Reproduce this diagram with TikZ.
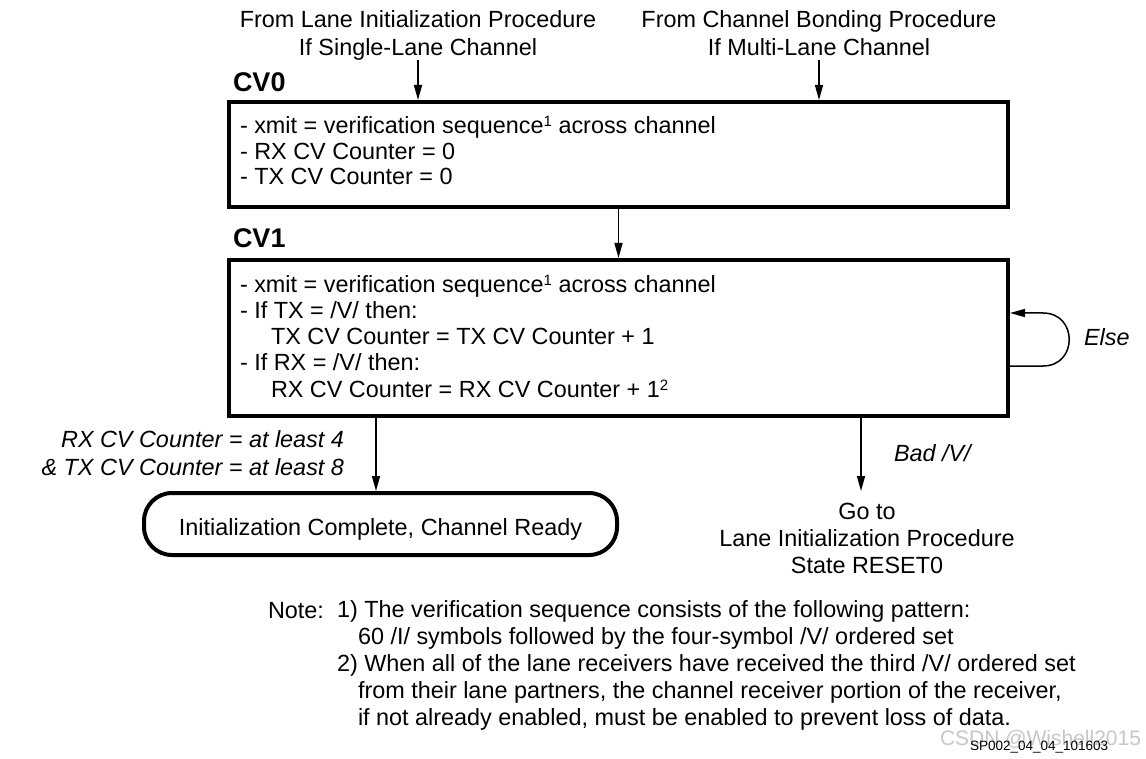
\documentclass[tikz,border=0pt]{standalone}
\usepackage{fontspec}
\setmainfont{Liberation Sans}
\usetikzlibrary{arrows.meta}
\newcommand{\supone}[1]{\raisebox{7pt}{\fontsize{15}{15}\selectfont #1}}
\begin{document}
\begin{tikzpicture}[x=1pt,y=-1pt,
  every node/.style={inner sep=0pt, outer sep=0pt},
  txt/.style={font=\fontsize{23.4}{26}\selectfont, align=left, anchor=base west},
  ctxt/.style={font=\fontsize{23.4}{28}\selectfont, align=center, anchor=base},
  itxt/.style={font=\fontsize{23.4}{28}\selectfont\itshape},
  state/.style={draw, line width=4pt, minimum width=779pt},
  title/.style={font=\fontsize{27}{27}\selectfont\bfseries, anchor=base west},
  arr/.style={line width=1.5pt, -{Triangle[length=15pt,width=8pt]}},
]
\path[use as bounding box, fill=white] (0,0) rectangle (1146,759);

% sources (base anchor = baseline of the last line)
\node[ctxt] (src1) at (418,56) {From Lane Initialization Procedure\\If Single-Lane Channel};
\node[ctxt] (src2) at (819,56) {From Channel Bonding Procedure\\If Multi-Lane Channel};

% CV0
\node[title] (cv0t) at (233,92) {CV0};
\node[state, minimum height=105pt] (cv0) at (618.5,154.5) {};
\node[txt, font=\fontsize{23.4}{25.5}\selectfont] (cv0x) at (240,185) {- xmit = verification sequence\supone{1} across channel\\- RX CV Counter = 0\\- TX CV Counter = 0};

% CV1
\node[title] (cv1t) at (233,248) {CV1};
\node[state, minimum height=156pt] (cv1) at (618.5,338) {};
\node[txt, font=\fontsize{23.4}{26.2}\selectfont] (cv1x) at (240,397) {- xmit = verification sequence\supone{1} across channel\\- If TX = /V/ then:\\\hspace*{31pt}TX CV Counter = TX CV Counter + 1\\- If RX = /V/ then:\\\hspace*{31pt}RX CV Counter = RX CV Counter + 1\supone{2}};

% arrows in
\draw[arr, shorten >=2pt] (src1.south |- 0,60) -- (src1.south |- cv0.north);
\draw[arr, shorten >=2pt] (src2.south |- 0,60) -- (src2.south |- cv0.north);
\draw[arr, shorten >=2pt] (cv0.south) -- (cv1.north);

% self loop
\draw[arr, shorten >=2pt] ([yshift=-28pt]cv1.east) -- ++(35,0)
  .. controls +(35,0) and (1078,313) .. (1043,313) -- ([yshift=25pt]cv1.east);
\node[itxt, anchor=base west] (else) at (1084,345) {Else};

% done
\node[draw, line width=4pt, rounded corners=28pt, minimum width=473pt, minimum height=62pt,
  font=\fontsize{23.4}{26}\selectfont, text height=22pt, text depth=0pt] (done) at (380.5,524)
  {Initialization Complete, Channel Ready};
\draw[arr, shorten >=2pt] ([xshift=-4.5pt]done.north |- cv1.south) -- ([xshift=-4.5pt]done.north);
\node[itxt, anchor=base east, align=right] (cond) at (344,475) {RX CV Counter = at least 4\\\& TX CV Counter = at least 8};

% bad V
\coordinate (gotoin) at (861,491);
\draw[arr] (cv1.south -| gotoin) -- (gotoin);
\node[itxt, anchor=base west] (bad) at (894,461) {Bad /V/};
\node[ctxt, font=\fontsize{23.4}{27}\selectfont] (goto) at (867,573) {Go to\\Lane Initialization Procedure\\State RESET0};

% notes
\node[txt, font=\fontsize{23.4}{26.8}\selectfont] (note) at (268,618) {Note:};
\node[txt, font=\fontsize{23.4}{26.8}\selectfont] (notes) at (337,725) {1) The verification sequence consists of the following pattern:\\\hspace*{21pt}60 /I/ symbols followed by the four-symbol /V/ ordered set\\2) When all of the lane receivers have received the third /V/ ordered set\\\hspace*{21pt}from their lane partners, the channel receiver portion of the receiver,\\\hspace*{21pt}if not already enabled, must be enabled to prevent loss of data.};

% footer
\node[font=\fontsize{21}{21}\selectfont, text=black!22, anchor=base west] (wm) at (940,745) {CSDN @Wishell2015};
\node[font=\fontsize{13.5}{13.5}\selectfont, anchor=base west] (code) at (970,750) {SP002\_04\_04\_101603};
\end{tikzpicture}
\end{document}
